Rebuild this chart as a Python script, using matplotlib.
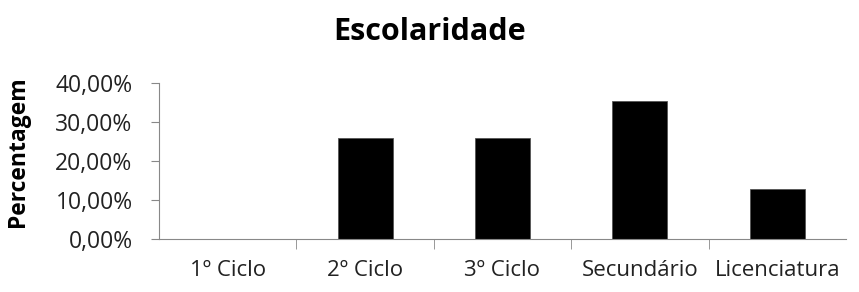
import numpy as np
import matplotlib.pyplot as plt
from matplotlib.ticker import FixedLocator, FuncFormatter

categorias = ['1º Ciclo', '2º Ciclo', '3º Ciclo', 'Secundário', 'Licenciatura']
percentagens = [0.0, 25.81, 25.81, 35.48, 12.90]

plt.rcParams['font.family'] = ['Open Sans', 'DejaVu Sans']

fig = plt.figure(figsize=(8.59, 2.92), dpi=100)
ax = fig.add_axes([159/859, 1 - 239/292, (846-159)/859, (239-83)/292])

x = np.arange(len(categorias))
ax.bar(x, percentagens, width=0.4, color='black', edgecolor='#555555', linewidth=0.6)

ax.set_xlim(-0.5, len(categorias) - 0.5)
ax.set_ylim(0, 40)
ax.set_yticks([0, 10, 20, 30, 40])
ax.yaxis.set_major_formatter(FuncFormatter(lambda v, p: f'{v:.2f}%'.replace('.', ',')))

ax.set_xticks(x)
ax.set_xticklabels(categorias)
ax.xaxis.set_minor_locator(FixedLocator(np.arange(0.5, len(categorias) - 1, 1.0)))
ax.tick_params(axis='x', which='major', length=0, pad=15, labelsize=16, colors='#222222')
ax.tick_params(axis='x', which='minor', length=7, color='#888888', direction='out')
ax.tick_params(axis='y', length=6, color='#888888', labelsize=16.5, labelcolor='#222222', pad=13)

for s in ['top', 'right']:
    ax.spines[s].set_visible(False)
for s in ['left', 'bottom']:
    ax.spines[s].set_color('#888888')

fig.text(18/859, 1 - 152/292, 'Percentagem', rotation=90, ha='center', va='center',
         fontsize=16.5, fontweight='bold')
fig.text(0.5, 1 - 32/292, 'Escolaridade', ha='center', va='center', fontsize=22, fontweight='bold')

fig.savefig('out.png', dpi=100)
